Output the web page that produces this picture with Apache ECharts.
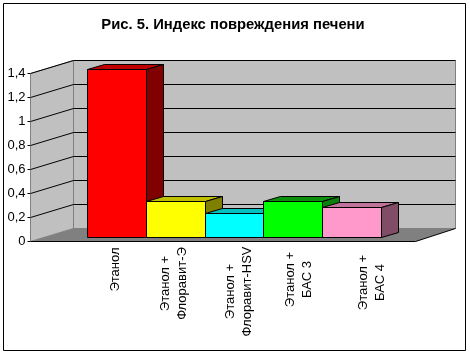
<!DOCTYPE html>
<html>
<head>
<meta charset="utf-8">
<title>Индекс повреждения печени</title>
<script src="https://cdn.jsdelivr.net/npm/echarts@6/dist/echarts.min.js"></script>
<style>
    html, body {margin: 0; padding: 0; background: #fff;}
    #chart {width: 470px; height: 355px;}
</style>
</head>
<body>
<div id="chart"></div>
<script>
var titleText = 'Рис. 5. Индекс повреждения печени';
var categories = ['Этанол', 'Этанол +\nФлоравит-Э', 'Этанол +\nФлоравит-HSV', 'Этанол +\nБАС 3', 'Этанол +\nБАС 4'];
var values = [1.4, 0.3, 0.2, 0.3, 0.25];
var yTicks = [0, 0.2, 0.4, 0.6, 0.8, 1, 1.2, 1.4];

// faces of the 3d bars
var frontColors = ['#ff0000', '#ffff00', '#00ffff', '#00ff00', '#ff99cc'];
var topColors = ['#c00000', '#c0c000', '#00c0c0', '#0c900c', '#bf7399'];
var sideColors = ['#800000', '#808000', '#008080', '#0c800c', '#804c66'];

// labels in the original are hand placed, they don't sit under the bars exactly
var labelShiftX = [-1, -2, 4, 6, 20];
var labelShiftY = [32, 46, 54, 42, 45];

var FONT = '"Liberation Sans", Arial, sans-serif';
var WALL_DX = 43, WALL_DX_RIGHT = 40, WALL_DY = -13;
var BAR_DX = 17, BAR_DY = -5;

// keep 1px lines on the pixel grid
function snap(v) {
    return Math.round(v - 0.5) + 0.5;
}

function poly(points, fill, stroke) {
    return {
        type: 'polygon',
        shape: {points: points},
        style: {fill: fill, stroke: stroke || null, lineWidth: 1}
    };
}

function line(x1, y1, x2, y2, color) {
    return {
        type: 'line',
        shape: {x1: x1, y1: y1, x2: x2, y2: y2},
        style: {stroke: color, lineWidth: 1}
    };
}

function renderWalls(params, api) {
    var box = params.coordSys;
    var left = box.x, right = box.x + box.width;
    var top = api.coord([0, 1.4])[1], bottom = api.coord([0, 0])[1];
    var backLeft = left + WALL_DX, backRight = right + WALL_DX_RIGHT;
    var backTop = top + WALL_DY, backBottom = bottom + WALL_DY;
    return {
        type: 'group',
        children: [
            poly([[left, top], [backLeft, backTop], [backLeft, backBottom], [left, bottom]], '#c0c0c0', '#808080'),
            poly([[backLeft, backTop], [backRight, backTop], [backRight, backBottom], [backLeft, backBottom]], '#c0c0c0', '#808080'),
            poly([[left, bottom], [backLeft, backBottom], [backRight, backBottom], [right, bottom]], '#808080', null),
            line(left, bottom, right, bottom, '#000'),
            line(right, bottom, backRight, backBottom, '#000')
        ]
    };
}

function renderGridLine(params, api) {
    var box = params.coordSys;
    var y = snap(api.coord([0, api.value(1)])[1]);
    if (api.value(1) === 0) {
        return null;
    }
    return {
        type: 'group',
        children: [
            line(box.x, y, box.x + WALL_DX, y + WALL_DY, '#000'),
            line(box.x + WALL_DX, y + WALL_DY, box.x + box.width + WALL_DX_RIGHT, y + WALL_DY, '#000')
        ]
    };
}

function renderBar(params, api) {
    var i = params.dataIndex;
    var w = api.size([1, 0])[0];
    var c = api.coord([api.value(0), api.value(1)]);
    var base = snap(api.coord([api.value(0), 0])[1]);
    var x0 = snap(c[0] - w / 2), x1 = snap(c[0] + w / 2), y = snap(c[1]);
    return {
        type: 'group',
        children: [
            poly([[x0, y], [x0 + BAR_DX, y + BAR_DY], [x1 + BAR_DX, y + BAR_DY], [x1, y]], topColors[i], '#000'),
            poly([[x1, y], [x1 + BAR_DX, y + BAR_DY], [x1 + BAR_DX, base + BAR_DY], [x1, base]], sideColors[i], '#000'),
            poly([[x0, y], [x1, y], [x1, base], [x0, base]], frontColors[i], '#000')
        ]
    };
}

function renderLabel(params, api) {
    var i = params.dataIndex;
    var c = api.coord([i, 0]);
    return {
        type: 'text',
        x: c[0] + labelShiftX[i],
        y: c[1] + labelShiftY[i],
        rotation: Math.PI / 2,
        style: {
            text: categories[i],
            align: 'center',
            verticalAlign: 'middle',
            fill: '#000',
            font: '13px ' + FONT,
            lineHeight: 17
        }
    };
}

var myChart = echarts.init(document.getElementById('chart'), null, {renderer: 'canvas'});

var option = {
    animation: false,
    backgroundColor: '#fff',
    title: {
        text: titleText,
        left: 228,
        top: 12,
        textAlign: 'center',
        textStyle: {
            color: '#000',
            fontFamily: FONT,
            fontSize: 14.8,
            fontWeight: 'bold'
        }
    },
    graphic: [{
        type: 'rect',
        silent: true,
        z: -1,
        shape: {x: 3.5, y: 3.5, width: 462, height: 347},
        style: {fill: 'none', stroke: '#000', lineWidth: 1}
    }],
    grid: [
        {left: 30.5, top: 73.5, width: 385, height: 168},
        {left: 87.5, top: 69.5, width: 294, height: 168}
    ],
    xAxis: [
        {gridIndex: 0, type: 'value', min: 0, max: 1, show: false},
        {gridIndex: 1, type: 'category', data: categories, show: false}
    ],
    yAxis: [
        {
            gridIndex: 0,
            type: 'value',
            min: 0,
            max: 1.4,
            interval: 0.2,
            z: 5,
            axisLine: {show: true, lineStyle: {color: '#808080'}},
            axisTick: {show: true, length: 3, lineStyle: {color: '#000'}},
            splitLine: {show: false},
            axisLabel: {
                color: '#000',
                fontFamily: FONT,
                fontSize: 13,
                margin: 5,
                formatter: function (v) {
                    return String(v).replace('.', ',');
                }
            }
        },
        {gridIndex: 1, type: 'value', min: 0, max: 1.4, show: false}
    ],
    series: [
        {
            type: 'custom',
            xAxisIndex: 0,
            yAxisIndex: 0,
            silent: true,
            z: 1,
            data: [[0, 0]],
            renderItem: renderWalls
        },
        {
            type: 'custom',
            xAxisIndex: 0,
            yAxisIndex: 0,
            silent: true,
            z: 2,
            data: yTicks.map(function (t) { return [0, t]; }),
            renderItem: renderGridLine
        },
        {
            type: 'custom',
            xAxisIndex: 1,
            yAxisIndex: 1,
            silent: true,
            z: 3,
            data: values.map(function (v, i) { return [i, v]; }),
            renderItem: renderBar
        },
        {
            type: 'custom',
            xAxisIndex: 1,
            yAxisIndex: 1,
            silent: true,
            z: 4,
            data: categories.map(function (c, i) { return [i, 0]; }),
            renderItem: renderLabel
        }
    ]
};

myChart.setOption(option);
</script>
</body>
</html>
